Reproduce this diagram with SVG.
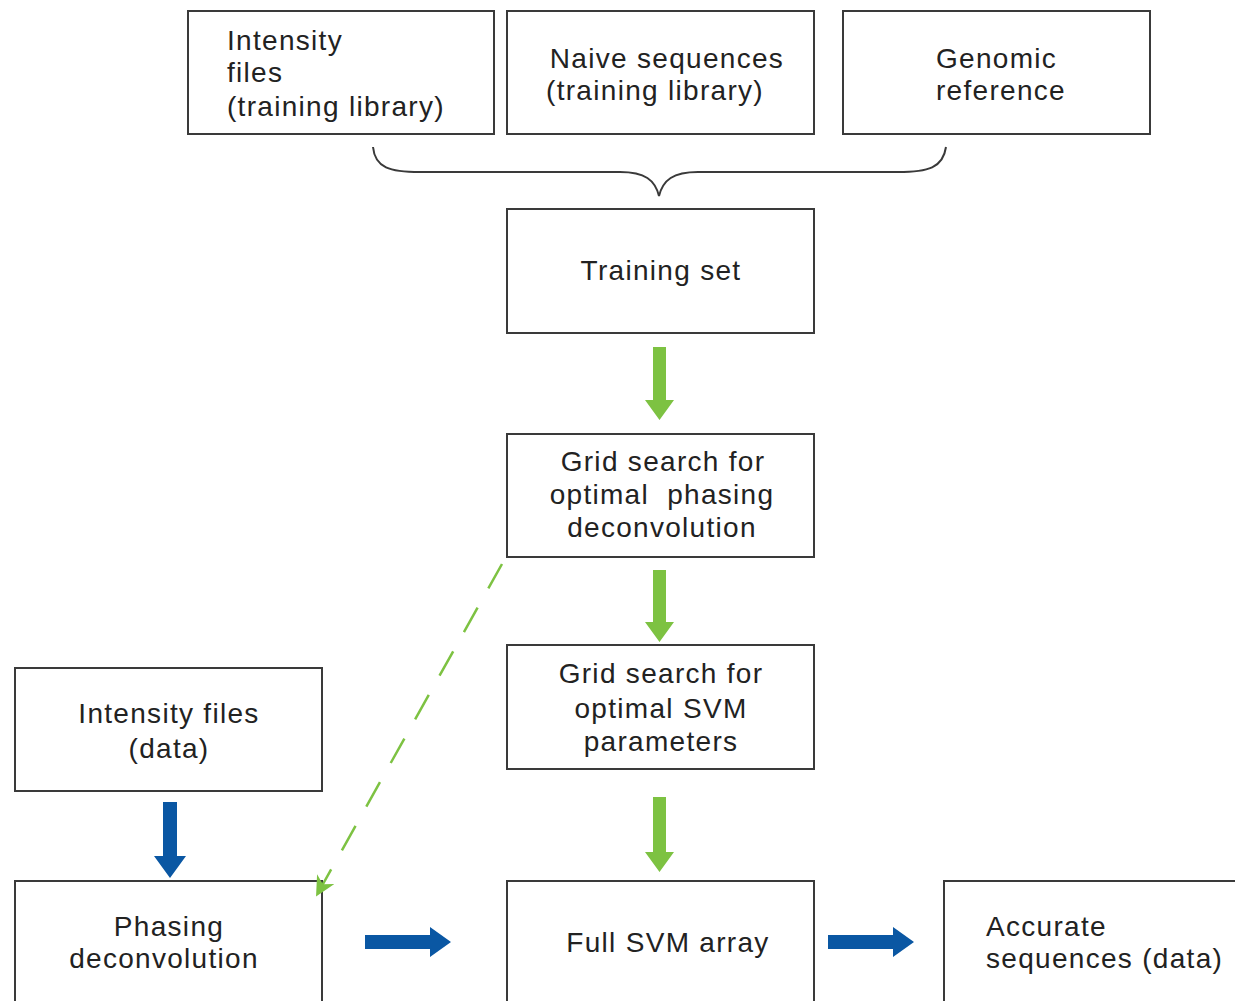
<svg xmlns="http://www.w3.org/2000/svg" width="1235" height="1001" viewBox="0 0 1235 1001">
<style>
.box{fill:#fff;stroke:#3a3a3a;stroke-width:2}
text{font-family:"Liberation Sans",Arial,sans-serif;font-size:28px;fill:#222;letter-spacing:1.3px}
.c{text-anchor:middle}
.green{fill:#7dc242}
.blue{fill:#0a57a3}
</style>
<defs>
<marker id="ga" viewBox="0 0 10 10" refX="8" refY="5" markerWidth="8" markerHeight="8" orient="auto" markerUnits="strokeWidth">
<path d="M0,0 L10,5 L0,10 L3,5 Z" fill="#7dc242"/>
</marker>
</defs>
<g id="n1"><rect class="box" x="188" y="11" width="306" height="123"/><text x="227" y="50">Intensity</text><text x="227" y="82">files</text><text x="227" y="116">(training library)</text></g>
<g id="n2"><rect class="box" x="507" y="11" width="307" height="123"/><text class="c" x="667" y="68">Naive sequences</text><text class="c" x="655" y="100">(training library)</text></g>
<g id="n3"><rect class="box" x="843" y="11" width="307" height="123"/><text x="936" y="68">Genomic</text><text x="936" y="100">reference</text></g>
<g id="n4"><rect class="box" x="507" y="209" width="307" height="124"/><text class="c" x="661" y="280">Training set</text></g>
<g id="n5"><rect class="box" x="507" y="434" width="307" height="123"/><text class="c" x="663" y="471">Grid search for</text><text class="c" x="662" y="504" xml:space="preserve">optimal  phasing</text><text class="c" x="662" y="537">deconvolution</text></g>
<g id="n6"><rect class="box" x="507" y="645" width="307" height="124"/><text class="c" x="661" y="683">Grid search for</text><text class="c" x="661" y="718">optimal SVM</text><text class="c" x="661" y="751">parameters</text></g>
<g id="n7"><rect class="box" x="15" y="668" width="307" height="123"/><text class="c" x="169" y="723">Intensity files</text><text class="c" x="169" y="758">(data)</text></g>
<g id="n8"><rect class="box" x="15" y="881" width="307" height="140"/><text class="c" x="169" y="936">Phasing</text><text class="c" x="164" y="968">deconvolution</text></g>
<g id="n9"><rect class="box" x="507" y="881" width="307" height="140"/><text class="c" x="668" y="952">Full SVM array</text></g>
<g id="n10"><rect class="box" x="944" y="881" width="320" height="140"/><text x="986" y="936">Accurate</text><text x="986" y="968">sequences (data)</text></g>
<g id="connectors">
<path d="M373,147 C375,168 390,172 420,172 L620,172 C645,172 655,180 659,196 C663,180 673,172 698,172 L898,172 C928,172 943,168 946,147" fill="none" stroke="#3a3a3a" stroke-width="2"/>
<path class="green" d="M653,347 H666 V400 H674 L659.5,420 L645,400 H653 Z"/>
<path class="green" d="M653,570 H666 V622 H674 L659.5,642 L645,622 H653 Z"/>
<path class="green" d="M653,797 H666 V852 H674 L659.5,872 L645,852 H653 Z"/>
<path class="blue" d="M163,802 H177 V856 H186 L170,878 L154,856 H163 Z"/>
<path class="blue" d="M365,935 H430 V927 L451,942 L430,957 V949 H365 Z"/>
<path class="blue" d="M828,935 H893 V927 L914,942 L893,957 V949 H828 Z"/>
<line x1="502" y1="564" x2="318" y2="893" stroke="#7dc242" stroke-width="2.5" stroke-dasharray="28,22" marker-end="url(#ga)"/>
</g>
</svg>
